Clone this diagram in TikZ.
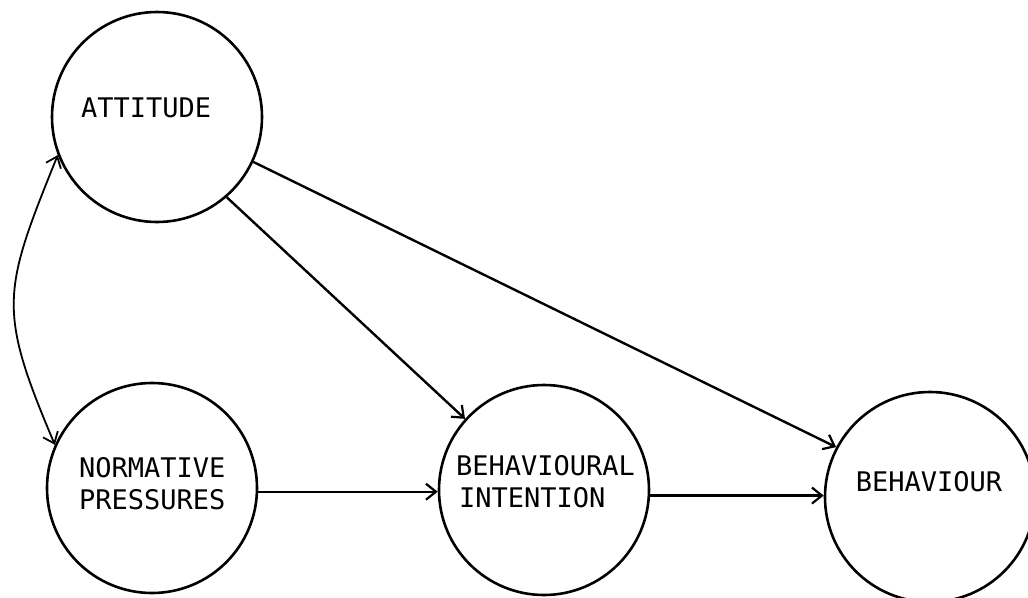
\documentclass[tikz,border=0pt]{standalone}
\usepackage{fontspec}
\newfontfamily\plotfont{DejaVu Sans Mono}
\usetikzlibrary{arrows.meta}
\begin{document}
\begin{tikzpicture}[x=1pt,y=-1pt,
  circ/.style={circle,draw,line width=2.6pt,minimum size=210pt,inner sep=0pt},
  lbl/.style={font=\plotfont\fontsize{27}{32}\selectfont,inner sep=0pt,align=left},
  conn/.style={line width=2.4pt,-{Straight Barb[length=10pt,width=16pt,line width=2.2pt]}},
  dconn/.style={line width=1.8pt,{Straight Barb[length=10pt,width=16pt,line width=1.8pt]}-{Straight Barb[length=10pt,width=16pt,line width=1.8pt]}}]
\useasboundingbox (0,0) rectangle (1028,597);
\node[circ] (att) at (157,117) {};
\node[circ] (norm) at (152,488) {};
\node[circ] (bi) at (544,490) {};
\node[circ] (beh) at (930,497) {};
\node[lbl,anchor=west] (tatt) at (81,108) {ATTITUDE};
\node[lbl,anchor=west] (tnorm) at (79,484) {NORMATIVE\\PRESSURES};
\node[lbl,anchor=west] (tbi) at (456,482) {BEHAVIOURAL\\\hspace*{3pt}INTENTION};
\node[lbl] (tbeh) at (929,482) {BEHAVIOUR};
\draw[conn] (att.-49) -- (bi.138);
\draw[conn] (att.-25) -- (beh.152);
\draw[conn] (norm.-2) -- (norm.-2 -| bi.west);
\draw[conn] (bi.-3) -- (bi.-3 -| beh.west);
\draw[dconn] (norm.156) to[out=113,in=248,looseness=1.3] (att.201);
\end{tikzpicture}
\end{document}
